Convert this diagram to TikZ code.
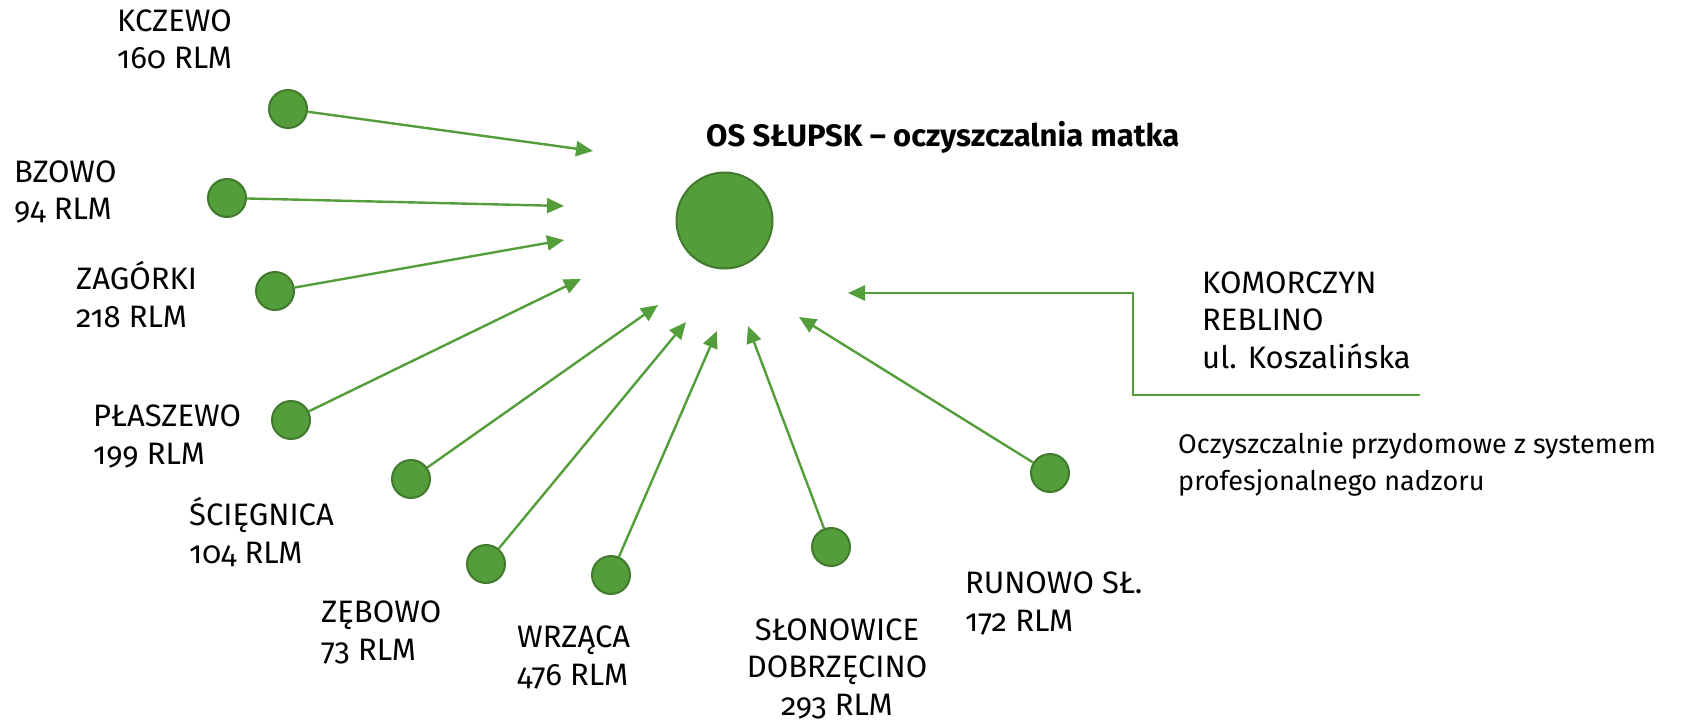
\documentclass[tikz,border=0pt]{standalone}
\usepackage{fontspec}
\setmainfont{Fira Sans}[Numbers=OldStyle]
\usepackage{xcolor}
\usepackage{tikz}
\usetikzlibrary{arrows.meta,calc}

\definecolor{plant}{HTML}{539D3B}
\definecolor{plantrim}{HTML}{41792D}

\begin{document}
\begin{tikzpicture}[x=1pt,y=-1pt]
            \tikzset{site/.style = {circle, fill=plant, draw=plantrim, line width=2pt, minimum size=38pt, inner sep=0pt}}
            \tikzset{flow/.style = {draw=plant, line width=2.4pt, -{Triangle[length=17pt,width=15pt]}}}
            \tikzset{place/.style = {inner sep=0pt, align=left, anchor=base west, font=\fontsize{31}{37.5}\selectfont}}

            \useasboundingbox (0,0) rectangle (1681,722);

            % vertices
            \node[site, minimum size=96pt] (slupsk) at (724.5,220.5) {};
            \foreach \n/\x/\y in {kczewo/288/109, bzowo/227/198, zagorki/275/291, plaszewo/291/420, sciegnica/411/479, zebowo/486/564, wrzaca/611/575, slonowice/831/547, runowo/1050/473}
            {
              \node[site] (\n) at (\x,\y) {};
            }

            % free arrow ends
            \foreach \n/\x/\y in {kczewo/593/151, bzowo/564/206, zagorki/564/240, plaszewo/581/279, sciegnica/658/305, zebowo/686/322, wrzaca/717/331, slonowice/748/326, runowo/799/317, komorczyn/848/293}
            {
              \coordinate (\n-in) at (\x,\y);
            }
            \coordinate (komorczyn-out) at (1420,395);
            \coordinate (komorczyn-bend) at (1133,293);

            % edges
            \foreach \n in {kczewo,bzowo,zagorki,plaszewo,sciegnica,zebowo,wrzaca,slonowice,runowo} {\draw[flow] (\n) -- (\n-in);}
            \draw[flow, line width=2.6pt] (komorczyn-out) -| (komorczyn-bend) -- (komorczyn-in);

            % labels (anchored on the last line)
            \node[anchor=base west, inner sep=0pt, font=\bfseries\fontsize{31}{36}\selectfont] (slupsk-txt) at (706,147) {OS SŁUPSK – oczyszczalnia matka};
            \node[place] (kczewo-txt) at (117,69) {KCZEWO\\160 RLM};
            \node[place] (bzowo-txt) at (14,220) {BZOWO\\94 RLM};
            \node[place] (zagorki-txt) at (76,327) {ZAGÓRKI\\218 RLM};
            \node[place] (plaszewo-txt) at (93,464) {PŁASZEWO\\199 RLM};
            \node[place] (sciegnica-txt) at (189,563) {ŚCIĘGNICA\\104 RLM};
            \node[place] (zebowo-txt) at (321,660) {ZĘBOWO\\73 RLM};
            \node[place] (wrzaca-txt) at (517,685) {WRZĄCA\\476 RLM};
            \node[place, align=center, anchor=base] (slonowice-txt) at (837,715) {SŁONOWICE\\DOBRZĘCINO\\293 RLM};
            \node[place] (runowo-txt) at (965,631) {RUNOWO SŁ.\\172 RLM};
            \node[place] (komorczyn-txt) at (1202,368) {KOMORCZYN\\REBLINO\\ul. Koszalińska};
            \node[place, font=\fontsize{27}{37}\selectfont] (przydomowe-txt) at (1178,490) {Oczyszczalnie przydomowe z systemem\\profesjonalnego nadzoru};
          \end{tikzpicture}
\end{document}
